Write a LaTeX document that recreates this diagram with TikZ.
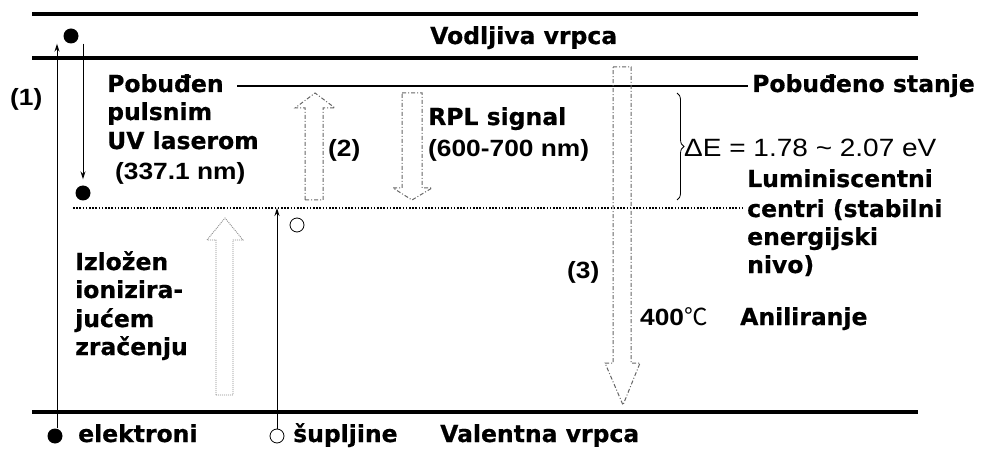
\documentclass[tikz,border=0pt]{standalone}
\usepackage{fontspec}
\setmainfont{DejaVu Sans}[BoldFeatures={FakeBold=0.6}]
\newfontfamily\arialfont[FakeStretch=1.12]{Liberation Sans}
\newfontfamily\cjkfont{Noto Sans CJK SC}
\usetikzlibrary{arrows.meta,decorations.pathreplacing}
\tikzset{
  band/.style={line width=4pt},
  lbl/.style={font=\fontsize{23.5}{28}\selectfont\bfseries, inner sep=0pt, anchor=base west},
  arl/.style={font=\fontsize{23.5}{28}\selectfont\arialfont\bfseries, inner sep=0pt, anchor=base west},
  dot/.style={circle, fill=black, inner sep=0pt, minimum size=15pt},
  hole/.style={circle, draw=black, line width=0.8pt, fill=white, inner sep=0pt, minimum size=14pt},
  thinarrow/.style={line width=1pt, -{Stealth[length=8pt,width=5pt]}},
  hollowdd/.style={draw=black!60, line width=1pt, dash pattern=on 4pt off 2pt on 1pt off 2pt},
  hollowdot/.style={draw=black!45, line width=0.9pt, dash pattern=on 1pt off 1pt},
}
\begin{document}
\begin{tikzpicture}[x=1pt,y=-1pt]
\useasboundingbox (0,0) rectangle (990,454);
% bands
\coordinate (b1l) at (32,14); \coordinate (b1r) at (918,14);
\coordinate (b2l) at (32,58); \coordinate (b2r) at (918,58);
\coordinate (b3l) at (32,412); \coordinate (b3r) at (918,412);
\draw[band] (b1l) -- (b1r);
\draw[band] (b2l) -- (b2r);
\draw[band] (b3l) -- (b3r);
\node[lbl] (vod) at (430,44) {Vodljiva vrpca};

% texts left
\node[arl] (n1) at (10,106) {(1)};
\node[lbl] (pob) at (107,92) {Pobuđen};
\node[lbl] (puls) at (107,120) {pulsnim};
\node[lbl] (uvl) at (107,149) {UV laserom};
\node[arl] (nm337) at (115,180) {(337.1 nm)};

% excited state line
\node[lbl] (pobst) at (752,92) {Pobuđeno stanje};
\coordinate (exc1) at (237,86);
\draw[line width=1.2pt, shorten >=4pt] (exc1) -- (exc1 -| pobst.west);

% luminescent centres
\node[lbl] (lum1) at (747,187) {Luminiscentni};
\node[lbl] (lum2) at (747,217) {centri (stabilni};
\node[lbl] (lum3) at (747,245) {energijski};
\node[lbl] (lum4) at (747,273) {nivo)};
\coordinate (dl) at (73,208);
\draw[line width=1.8pt, dash pattern=on 1.6pt off 1.6pt, shorten >=4pt] (dl) -- (dl -| lum2.west);

% RPL
\node[arl] (n2) at (328,157) {(2)};
\node[lbl] (rpl) at (428,125) {RPL signal};
\node[arl] (nm600) at (428,157) {(600-700 nm)};
\node[inner sep=0pt, anchor=base west, font=\fontsize{25}{28}\selectfont\arialfont] (de) at (684,157) {ΔE = 1.78 \textasciitilde\ 2.07 eV};
\draw[line width=0.8pt, decorate, decoration={brace, amplitude=7pt}] (677,93) -- (677,200);

% hollow arrows
\draw[hollowdd] (305,200) -- (305,108) -- (295,108) -- (315,93) -- (335,108) -- (323,108) -- (323,200) -- cycle;
\draw[hollowdd] (402,93) -- (422,93) -- (422,188) -- (432,188) -- (412,200) -- (393,188) -- (402,188) -- cycle;
\draw[hollowdd] (613,67) -- (631,67) -- (631,363) -- (640,363) -- (623,405) -- (605,363) -- (613,363) -- cycle;
\draw[hollowdot] (216,395) -- (216,240) -- (207,240) -- (225,218) -- (243,240) -- (233,240) -- (233,395) -- cycle;

% annealing
\node[arl] (n3) at (567,279) {(3)};
\node[arl] (t400) at (640,325) {400{\cjkfont\mdseries ℃}};
\node[lbl] (anil) at (740,325) {Aniliranje};

% ionizing
\node[lbl] (iz1) at (75,270) {Izložen};
\node[lbl] (iz2) at (75,298) {ionizira-};
\node[lbl] (iz3) at (75,327) {jućem};
\node[lbl] (iz4) at (75,355) {zračenju};

% electrons and holes
\node[dot] (etop) at (71,36) {};
\node[dot] (ebot) at (83,193) {};
\node[dot] (eleg) at (55,436) {};
\node[hole] (htrap) at (297,225) {};
\node[hole] (hleg) at (277,436) {};
\draw[thinarrow] (eleg.north -| 57,0) -- (57,0 |- etop.south);
\draw[thinarrow] (ebot |- etop.south) -- ([yshift=6pt]ebot.north);
\draw[thinarrow] (hleg.north) -- (hleg |- dl);

% legend texts
\node[lbl] (elek) at (78,442) {elektroni};
\node[lbl] (supl) at (293,442) {šupljine};
\node[lbl] (val) at (440,442) {Valentna vrpca};
\end{tikzpicture}
\end{document}
